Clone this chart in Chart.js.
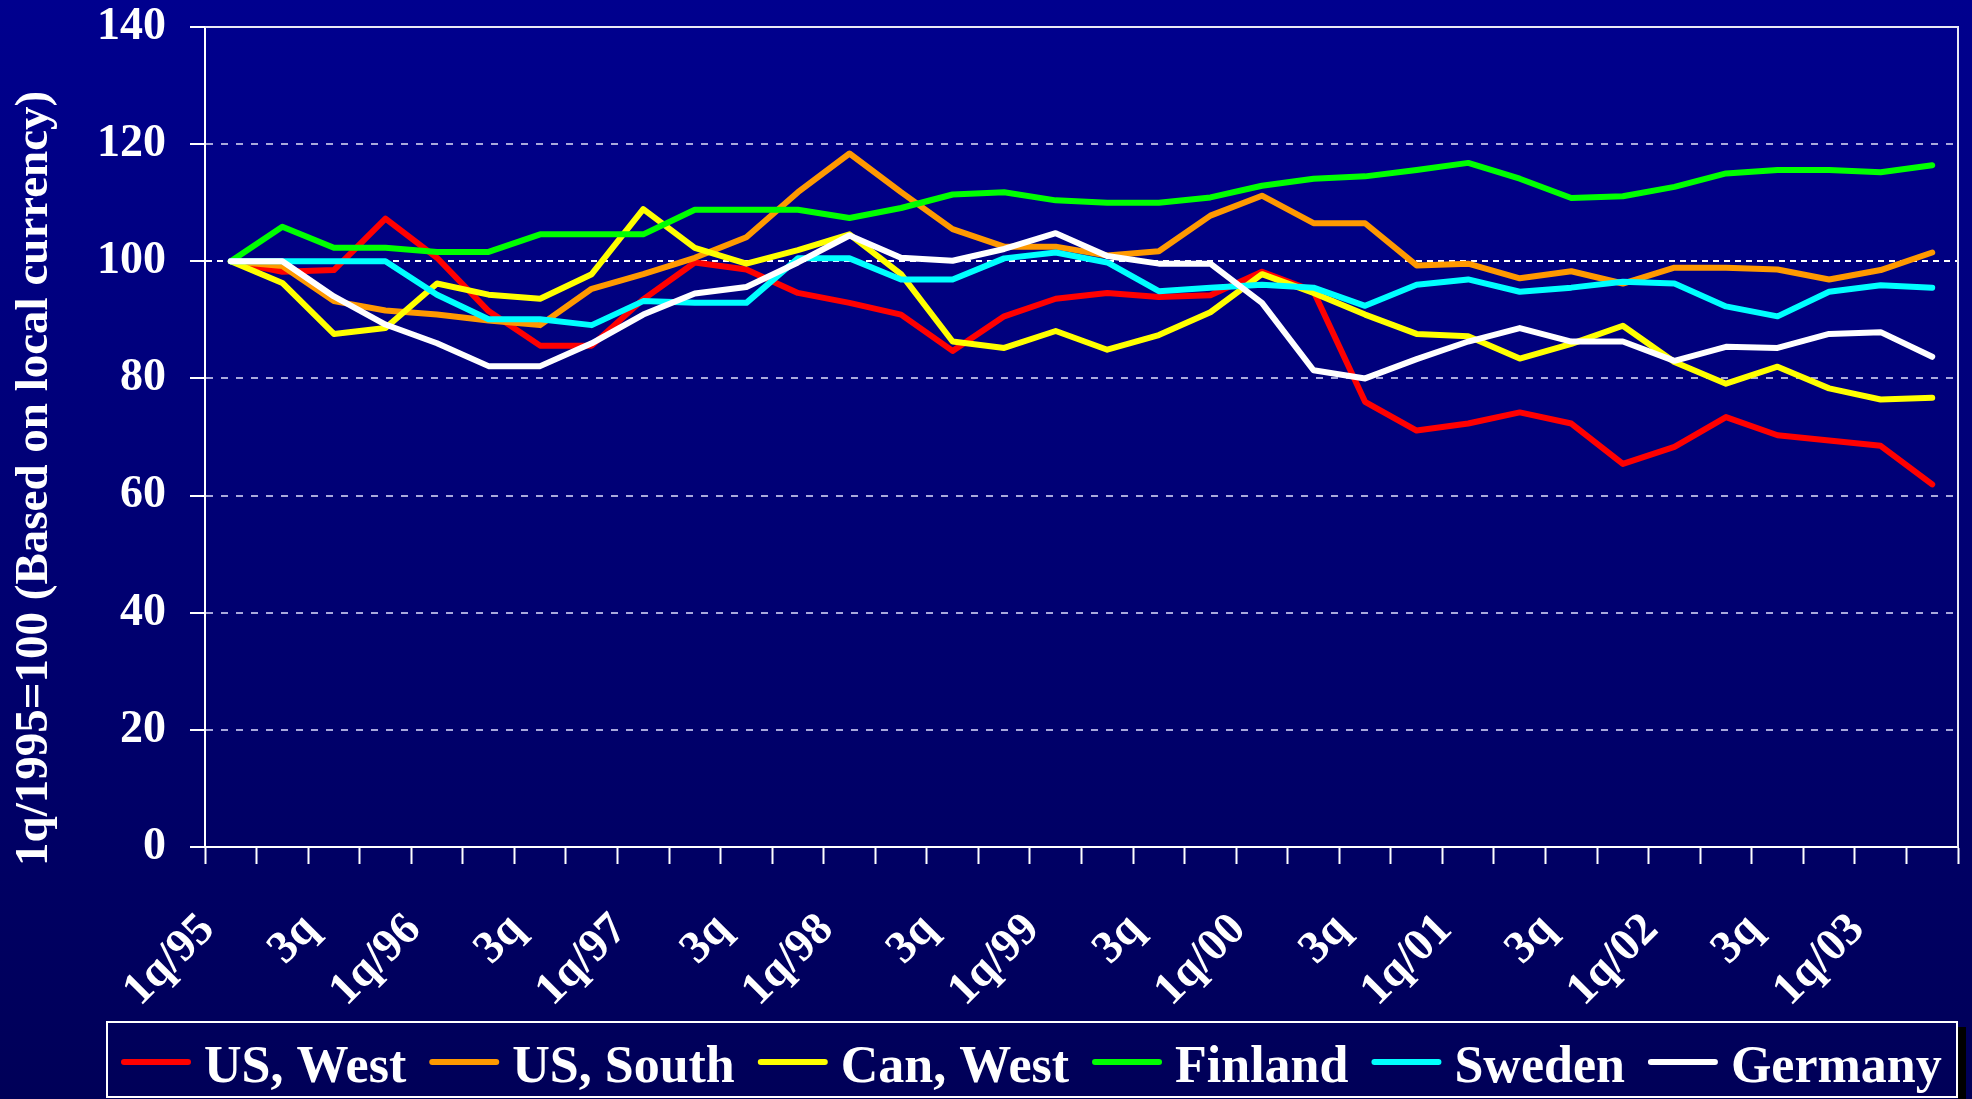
<!DOCTYPE html>
<html>
<head>
<meta charset="utf-8">
<title>House price index, 1q/1995=100</title>
<script src="https://cdn.jsdelivr.net/npm/chart.js@4.4.1/dist/chart.umd.min.js"></script>
<style>
    html, body { margin: 0; padding: 0; }
    body {
        width: 1972px;
        height: 1099px;
        overflow: hidden;
        background: linear-gradient(#00008e, #000058);
    }
    canvas { display: block; }
</style>
</head>
<body>
<canvas id="myChart" width="1972" height="1099"></canvas>
<script>
// quarters, 1q/95 .. 2q/03
const quarters = [
    '1q/95', '2q/95', '3q/95', '4q/95', '1q/96', '2q/96', '3q/96', '4q/96',
    '1q/97', '2q/97', '3q/97', '4q/97', '1q/98', '2q/98', '3q/98', '4q/98',
    '1q/99', '2q/99', '3q/99', '4q/99', '1q/00', '2q/00', '3q/00', '4q/00',
    '1q/01', '2q/01', '3q/01', '4q/01', '1q/02', '2q/02', '3q/02', '4q/02',
    '1q/03', '2q/03'
];

const usWest = [100, 98.2, 98.5, 107.3, 100.6, 91.5, 85.6, 85.6, 93.5, 99.8, 98.6, 94.6, 92.9, 90.9, 84.7, 90.6, 93.6,
    94.6, 93.9, 94.2, 98.2, 94.9, 76.0, 71.1, 72.3, 74.2, 72.3, 65.4, 68.3, 73.4, 70.3, 69.4, 68.5, 61.9];
const usSouth = [100, 99.2, 93.2, 91.6, 90.9, 89.9, 89.1, 95.3, 97.8, 100.6, 104.1, 111.8, 118.4, 111.8, 105.5, 102.5, 102.5,
    101.0, 101.7, 107.8, 111.2, 106.5, 106.5, 99.3, 99.6, 97.1, 98.3, 96.2, 98.9, 98.9, 98.6, 96.9, 98.5, 101.5];
const canWest = [100, 96.3, 87.6, 88.6, 96.2, 94.3, 93.6, 97.8, 108.9, 102.3, 99.6, 101.9, 104.6, 97.8, 86.3, 85.2, 88.1,
    84.9, 87.4, 91.3, 97.8, 94.6, 90.9, 87.6, 87.2, 83.4, 85.9, 89.0, 82.8, 79.1, 82.0, 78.3, 76.4, 76.7];
const finland = [100, 105.9, 102.3, 102.3, 101.6, 101.6, 104.6, 104.6, 104.6, 108.8, 108.8, 108.8, 107.4, 109.1, 111.4, 111.8, 110.4,
    110.0, 110.0, 110.9, 112.9, 114.1, 114.5, 115.6, 116.8, 114.1, 110.8, 111.1, 112.7, 115.0, 115.6, 115.6, 115.2, 116.4];
const sweden = [100, 100, 100, 100, 94.3, 90.1, 90.1, 89.1, 93.2, 92.9, 92.9, 100.5, 100.5, 96.9, 96.9, 100.5, 101.5,
    99.8, 94.9, 95.5, 96.0, 95.5, 92.4, 96.0, 96.9, 94.8, 95.5, 96.5, 96.2, 92.3, 90.6, 94.8, 95.9, 95.5];
const germany = [100, 100, 94.0, 89.2, 86.0, 82.1, 82.1, 86.0, 90.9, 94.5, 95.6, 99.8, 104.4, 100.6, 100.1, 102.1, 104.8,
    100.9, 99.6, 99.6, 92.9, 81.4, 80.0, 83.3, 86.3, 88.6, 86.3, 86.3, 83.0, 85.4, 85.2, 87.6, 87.9, 83.7];

const seriesNames = ['US, West', 'US, South', 'Can, West', 'Finland', 'Sweden', 'Germany'];
const seriesValues = [usWest, usSouth, canWest, finland, sweden, germany];
const seriesColors = ['#ff0000', '#ff9900', '#ffff00', '#00ff00', '#00ffff', '#ffffff'];
const yTitle = '1q/1995=100 (Based on local currency)';

const serif = '"Liberation Serif", "Times New Roman", serif';
Chart.defaults.font.family = serif;
Chart.defaults.font.weight = 'bold';
Chart.defaults.color = '#ffffff';

// frame round the plot, the y title and the boxed legend under the axis
const frameAndLegend = {
    id: 'frameAndLegend',
    afterDraw(chart) {
        const ctx = chart.ctx;
        const area = chart.chartArea;
        ctx.save();

        ctx.strokeStyle = '#e8e8f4';
        ctx.lineWidth = 2;
        ctx.beginPath();
        ctx.moveTo(area.left, area.top);
        ctx.lineTo(area.right, area.top);
        ctx.lineTo(area.right, area.bottom);
        ctx.stroke();

        // y title sits a little lower than the plot centre
        ctx.save();
        ctx.translate(35, 866);
        ctx.rotate(-Math.PI / 2);
        ctx.font = 'bold 47px ' + serif;
        ctx.fillStyle = '#ffffff';
        ctx.textAlign = 'left';
        ctx.textBaseline = 'middle';
        ctx.fillText(yTitle, 0, 0);
        ctx.restore();

        // legend box with its shadow
        ctx.fillStyle = '#000000';
        ctx.fillRect(1958, 1027, 8, 72);
        ctx.strokeStyle = '#ffffff';
        ctx.lineWidth = 2;
        ctx.strokeRect(107, 1022, 1850, 75);

        ctx.font = 'bold 52px ' + serif;
        ctx.textBaseline = 'alphabetic';
        ctx.textAlign = 'left';
        let x = 121;
        chart.data.datasets.forEach(function (ds) {
            ctx.strokeStyle = ds.borderColor;
            ctx.lineWidth = 6;
            ctx.lineCap = 'round';
            ctx.beginPath();
            ctx.moveTo(x + 3, 1062);
            ctx.lineTo(x + 67, 1062);
            ctx.stroke();
            ctx.fillStyle = '#ffffff';
            ctx.fillText(ds.label, x + 83, 1082);
            x += 83 + ctx.measureText(ds.label).width + 23;
        });
        ctx.restore();
    }
};

const ctx = document.getElementById('myChart');
let myChart = new Chart(ctx, {
    type: 'line',
    data: {
        labels: quarters,
        datasets: seriesNames.map(function (name, i) {
            return {
                label: name,
                data: seriesValues[i],
                borderColor: seriesColors[i],
                backgroundColor: seriesColors[i],
                borderWidth: 6,
                borderJoinStyle: 'round',
                borderCapStyle: 'round',
                pointRadius: 0,
                tension: 0,
                order: seriesNames.length - i
            };
        })
    },
    options: {
        responsive: false,
        animation: false,
        devicePixelRatio: 1,
        layout: {padding: {top: 27, right: 14, bottom: 82, left: 0}},
        plugins: {
            legend: {display: false},
            tooltip: {enabled: false}
        },
        scales: {
            x: {
                offset: true,
                grid: {
                    offset: true,
                    drawOnChartArea: false,
                    tickLength: 17,
                    tickColor: '#ffffff',
                    tickWidth: 2
                },
                border: {color: '#ffffff', width: 2},
                ticks: {
                    autoSkip: false,
                    minRotation: 45,
                    maxRotation: 45,
                    padding: 39,
                    labelOffset: -23,
                    font: {size: 46, weight: 'bold'},
                    color: '#ffffff',
                    callback: function (value, index) {
                        const q = quarters[index];
                        if (q.startsWith('1q')) return q;
                        if (q.startsWith('3q')) return '3q';
                        return '';
                    }
                },
                afterFit: function (scale) {
                    scale.height = 170;
                    scale.paddingLeft = 0;
                    scale.paddingRight = 0;
                }
            },
            y: {
                min: 0,
                max: 140,
                ticks: {
                    stepSize: 20,
                    padding: 24,
                    font: {size: 46, weight: 'bold'},
                    color: '#ffffff'
                },
                grid: {
                    color: function (c) {
                        const v = c.tick ? c.tick.value : null;
                        if (v === 0 || v === 140) return 'rgba(0,0,0,0)';
                        return v === 100 ? '#ffffff' : '#a8a8dc';
                    },
                    lineWidth: 2,
                    tickLength: 15,
                    tickColor: '#ffffff',
                    tickWidth: 2
                },
                border: {
                    color: '#ffffff',
                    width: 2,
                    dash: function (c) {
                        return c.tick && c.tick.value === 100 ? [6, 5] : [7, 8];
                    }
                },
                title: {display: false},
                afterFit: function (scale) {
                    scale.width = 205;
                    scale.paddingTop = 0;
                    scale.paddingBottom = 0;
                }
            }
        }
    },
    plugins: [frameAndLegend]
});
</script>
</body>
</html>
